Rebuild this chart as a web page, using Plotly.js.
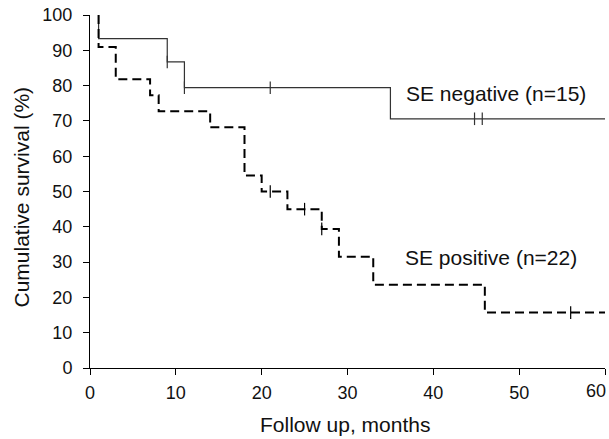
<!DOCTYPE html>
<html>
<head>
<meta charset="utf-8">
<script src="https://cdn.plot.ly/plotly-3.0.1.min.js"></script>
<style>html,body{margin:0;padding:0;background:#fff;}#chart{width:609px;height:439px;}</style>
</head>
<body>
<div id="chart"></div>
<script>
// SE negative (n=15): step times and survival (%)
const negTimes = [1, 1, 9, 11, 35, 60];
const negSurv = [100, 93.3, 86.7, 79.4, 70.6, 70.6];
const negCensorTimes = [9, 11, 21, 44.8, 45.7];
const negCensorSurv = [86.7, 79.4, 79.4, 70.6, 70.6];

// SE positive (n=22)
const posTimes = [1, 1, 3, 7, 8, 14, 18, 20, 23, 27, 29, 33, 46, 60];
const posSurv = [100, 90.9, 81.8, 77.3, 72.7, 68.2, 54.5, 50.0, 45.0, 39.4, 31.5, 23.6, 15.7, 15.7];
const posCensorTimes = [21, 25, 27, 56];
const posCensorSurv = [50.0, 45.0, 39.4, 15.7];

const xTicks = [0, 10, 20, 30, 40, 50, 60];
const yTicks = [0, 10, 20, 30, 40, 50, 60, 70, 80, 90, 100];

const labelNeg = 'SE negative (n=15)';
const labelPos = 'SE positive (n=22)';
const xTitle = 'Follow up, months';
const yTitle = 'Cumulative survival (%)';

const font = 'Liberation Sans, Arial, sans-serif';

// last x tick label is drawn shifted left so it fits inside the page (as in the reference)
const lastX = xTicks[xTicks.length - 1];
const xTickText = xTicks.map((v, i) => i === xTicks.length - 1 ? '' : String(v));

const traces = [
  {x: negTimes, y: negSurv, mode: 'lines', line: {shape: 'hv', color: '#333', width: 1.2}, hoverinfo: 'skip'},
  {x: posTimes, y: posSurv, mode: 'lines', line: {shape: 'hv', color: '#000', width: 2, dash: '9px,5px'}, hoverinfo: 'skip'},
  {x: negCensorTimes, y: negCensorSurv, mode: 'markers', marker: {symbol: 'line-ns', size: 9, line: {color: '#333', width: 1.2}}, hoverinfo: 'skip'},
  {x: posCensorTimes, y: posCensorSurv, mode: 'markers', marker: {symbol: 'line-ns', size: 9, line: {color: '#000', width: 1.2}}, hoverinfo: 'skip'}
];

const layout = {
  width: 609, height: 439,
  margin: {l: 90, r: 4, t: 15, b: 71},
  showlegend: false,
  paper_bgcolor: '#fff', plot_bgcolor: '#fff',
  font: {family: font, size: 18, color: '#111'},
  xaxis: {
    range: [0, 60], tickvals: xTicks, ticktext: xTickText, ticks: 'outside', ticklen: 6, tickwidth: 1, tickcolor: '#000',
    showline: true, linecolor: '#000', linewidth: 1, showgrid: false, zeroline: false,
    tickfont: {size: 18}, automargin: false, ticklabelstandoff: 2
  },
  yaxis: {
    range: [0, 100], tickvals: yTicks, ticks: 'outside', ticklen: 6, tickwidth: 1, tickcolor: '#000',
    showline: true, linecolor: '#000', linewidth: 1, showgrid: false, zeroline: false,
    tickfont: {size: 18}, automargin: false, ticklabelstandoff: 7
  },
  annotations: [
    {x: 36.6, y: 77.9, xref: 'x', yref: 'y', text: labelNeg, showarrow: false, xanchor: 'left', yanchor: 'middle', font: {size: 21}},
    {x: 36.5, y: 31.4, xref: 'x', yref: 'y', text: labelPos, showarrow: false, xanchor: 'left', yanchor: 'middle', font: {size: 21}},
    {x: lastX, y: 0, xref: 'x', yref: 'y', text: String(lastX), showarrow: false, xanchor: 'right', yanchor: 'top', xshift: 3, yshift: -11, font: {size: 18}},
    {x: 0.5, y: 0, xref: 'paper', yref: 'paper', text: xTitle, showarrow: false, xanchor: 'center', yanchor: 'middle', xshift: -3, yshift: -56, font: {size: 21}},
    {x: 0, y: 0.5, xref: 'paper', yref: 'paper', text: yTitle, showarrow: false, textangle: -90, xanchor: 'center', yanchor: 'middle', xshift: -69, yshift: -6, font: {size: 21}}
  ]
};

Plotly.newPlot('chart', traces, layout, {displayModeBar: false, staticPlot: true});
</script>
</body>
</html>
